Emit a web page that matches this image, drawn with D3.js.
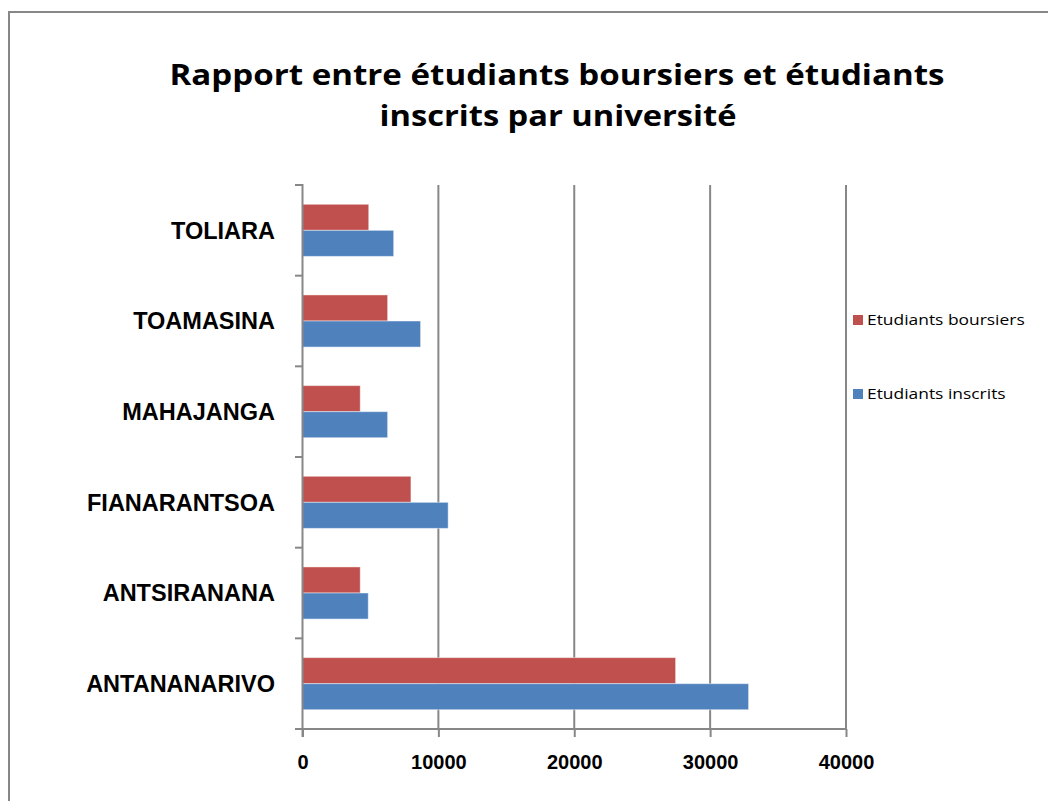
<!DOCTYPE html>
<html>
<head>
<meta charset="utf-8">
<script src="https://cdn.jsdelivr.net/npm/d3@7"></script>
<style>
  body { margin: 0; background: #fff; }
  svg { display: block; }
</style>
</head>
<body>
<svg id="chart" width="1048" height="801"></svg>
<script>
// categories, top to bottom as drawn
var universities = ["TOLIARA", "TOAMASINA", "MAHAJANGA", "FIANARANTSOA", "ANTSIRANANA", "ANTANANARIVO"];
var seriesNames = ["Etudiants boursiers", "Etudiants inscrits"];
var seriesColors = ["#C0504D", "#4F81BD"];
var boursiers = [4875, 6265, 4250, 7980, 4250, 27460];
var inscrits = [6710, 8690, 6265, 10720, 4840, 32830];
var xTicks = [0, 10000, 20000, 30000, 40000];

var svg = d3.select('#chart');
var grey = '#878787';

// outer chart frame
svg.append('path')
    .attr('d', 'M9,801 V12 H1048')
    .attr('fill', 'none')
    .attr('stroke', grey)
    .attr('stroke-width', 2);

// title (two lines, stretched to the reference width)
var title = svg.append('g')
    .style('font-family', '"Open Sans", sans-serif')
    .style('font-weight', 'bold')
    .style('font-size', '29px')
    .attr('fill', '#000');
title.append('text')
    .attr('x', 557).attr('y', 85)
    .attr('text-anchor', 'middle')
    .attr('textLength', 775).attr('lengthAdjust', 'spacingAndGlyphs')
    .text('Rapport entre étudiants boursiers et étudiants');
title.append('text')
    .attr('x', 558).attr('y', 126)
    .attr('text-anchor', 'middle')
    .attr('textLength', 357).attr('lengthAdjust', 'spacingAndGlyphs')
    .text('inscrits par université');

// scales
var x = d3.scaleLinear().domain([0, 40000]).range([302.5, 846]);
var y = d3.scaleBand().domain(universities).range([185, 729]).padding(0);
var yInner = d3.scaleBand().domain(seriesNames).range([0, y.bandwidth()])
    .paddingInner(0).paddingOuter(0.74);

// vertical gridlines
svg.append('g').selectAll('line')
    .data(xTicks.slice(1))
    .enter().append('line')
        .attr('x1', function(d){ return x(d); })
        .attr('x2', function(d){ return x(d); })
        .attr('y1', 185).attr('y2', 729)
        .attr('stroke', grey).attr('stroke-width', 2);

// bars
var rows = universities.map(function(u, i){
    return {name: u, values: [boursiers[i], inscrits[i]]};
});
var groups = svg.append('g').selectAll('g')
    .data(rows)
    .enter().append('g')
        .attr('transform', function(d){ return 'translate(0,' + y(d.name) + ')'; });
groups.selectAll('rect')
    .data(function(d){
        return d.values.map(function(v, j){ return {series: seriesNames[j], value: v, j: j}; });
    })
    .enter().append('rect')
        .attr('x', x(0))
        .attr('y', function(d){ return yInner(d.series); })
        .attr('width', function(d){ return x(d.value) - x(0); })
        .attr('height', yInner.bandwidth())
        .attr('fill', function(d){ return seriesColors[d.j]; })
        .attr('stroke', '#ffffff').attr('stroke-opacity', 0.45).attr('stroke-width', 1);

// x axis
var xAxis = d3.axisBottom(x).tickValues(xTicks).tickSize(8).tickPadding(18).tickFormat(d3.format('d'));
var gx = svg.append('g')
    .attr('transform', 'translate(0,729)')
    .call(xAxis);
gx.select('.domain').attr('d', 'M295,0 H' + x(40000)).attr('stroke', grey).attr('stroke-width', 2);
gx.selectAll('.tick line').attr('stroke', grey).attr('stroke-width', 2);
gx.selectAll('.tick text')
    .style('font-family', '"Liberation Sans", Arial, sans-serif')
    .style('font-weight', 'bold')
    .style('font-size', '20px')
    .attr('fill', '#000');

// y axis line + tick marks at band boundaries
var yBounds = universities.map(function(u){ return y(u); }).concat([729]);
svg.append('line')
    .attr('x1', x(0)).attr('x2', x(0))
    .attr('y1', 184).attr('y2', 737)
    .attr('stroke', grey).attr('stroke-width', 2);
svg.append('g').selectAll('line')
    .data(yBounds)
    .enter().append('line')
        .attr('x1', 295).attr('x2', x(0))
        .attr('y1', function(d){ return d; })
        .attr('y2', function(d){ return d; })
        .attr('stroke', grey).attr('stroke-width', 2);

// category labels
svg.append('g').selectAll('text')
    .data(universities)
    .enter().append('text')
        .attr('x', 275)
        .attr('y', function(d){ return y(d) + y.bandwidth() / 2; })
        .attr('dy', '0.35em')
        .attr('text-anchor', 'end')
        .style('font-family', '"Liberation Sans", Arial, sans-serif')
        .style('font-weight', 'bold')
        .style('font-size', '23.5px')
        .attr('fill', '#000')
        .text(function(d){ return d; });

// legend
var legend = svg.append('g').selectAll('g')
    .data(seriesNames)
    .enter().append('g')
        .attr('transform', function(d, i){ return 'translate(853,' + (320 + i * 74) + ')'; });
legend.append('rect')
    .attr('x', 0).attr('y', -5)
    .attr('width', 10).attr('height', 10)
    .attr('fill', function(d, i){ return seriesColors[i]; });
legend.append('text')
    .attr('x', 14).attr('y', 0)
    .attr('dy', '0.35em')
    .style('font-family', '"Open Sans", sans-serif')
    .style('font-size', '15px')
    .attr('fill', '#000')
    .text(function(d){ return d; })
    .each(function(){
        // stretch a little, the reference font is wider
        var w = this.getComputedTextLength();
        d3.select(this).attr('textLength', w * 1.16).attr('lengthAdjust', 'spacingAndGlyphs');
    });
</script>
</body>
</html>
